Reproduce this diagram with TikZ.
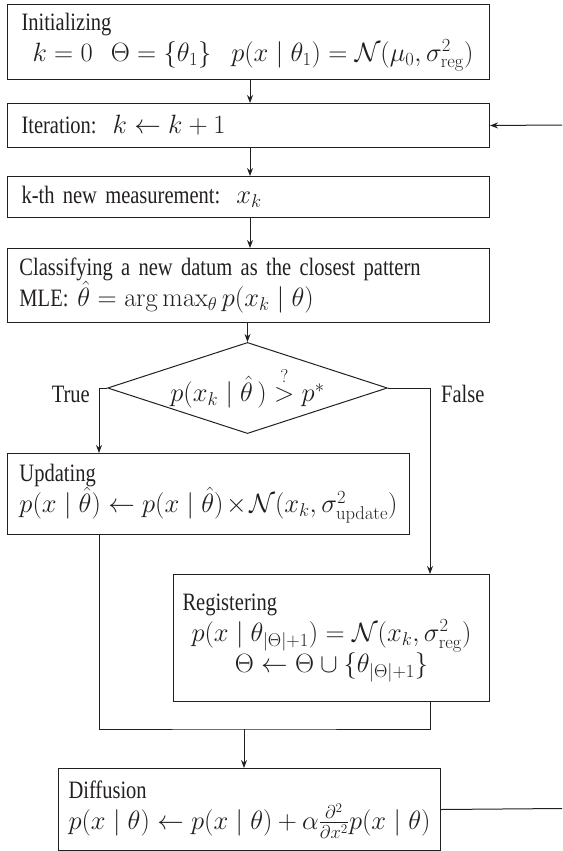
\documentclass[tikz,border=0pt]{standalone}
\usepackage{fix-cm}
\usepackage{amsmath}
\usepackage[no-math]{fontspec}
\setmainfont{Liberation Serif}[FakeStretch=0.82]
\usetikzlibrary{shapes.geometric,arrows.meta,calc}
\definecolor{ink}{HTML}{231F20}
\newcommand\mm[1]{{\fontsize{26.5}{31}\selectfont$#1$}}
\begin{document}
\begin{tikzpicture}[x=1pt,y=-1pt,
  every node/.style={text=ink},
  txt/.style={font=\fontsize{25}{31}\selectfont},
  box/.style={txt,draw=ink,line width=1pt,rectangle,anchor=north west,inner ysep=0pt,align=left},
  arr/.style={draw=ink,line width=1pt,-{Stealth[length=8pt,width=6pt]}},
  ln/.style={draw=ink,line width=1pt}]
\useasboundingbox (0,0) rectangle (562,851);

\node[box,inner xsep=14pt,text width=454pt,minimum width=482pt,minimum height=75pt] (init) at (7,4)
 {Initializing\\ \makebox[\linewidth][l]{\hspace*{11pt}\mm{k=0\hspace{18pt}\Theta=\{\theta_1\}\hspace{20pt}p(x\mid\theta_1)=\mathcal{N}(\mu_0,\sigma^2_{\mathrm{reg}})}}};

\node[box,inner xsep=14pt,text width=454pt,minimum width=482pt,minimum height=44pt] (iter) at (7,103)
 {Iteration:\hspace{16pt}\mm{k\leftarrow k+1}};

\node[box,inner xsep=14pt,text width=454pt,minimum width=482pt,minimum height=41pt] (meas) at (7,176)
 {k-th new measurement:\hspace{16pt}\mm{x_k}};

\node[box,inner xsep=12pt,text width=458pt,minimum width=482pt,minimum height=74pt] (cls) at (7,248)
 {Classifying a new datum as the closest pattern\\ MLE:\hspace{9pt}\mm{\hat\theta=\arg\max_\theta p(x_k\mid\theta)}};

\node[txt,draw=ink,line width=1pt,diamond,aspect=3.07,inner sep=0pt,minimum width=255pt,minimum height=83pt] (dec) at (247.5,388)
 {\mm{p(x_k\mid\hat\theta\,)\overset{?}{>}p^*}};

\node[box,inner xsep=12pt,text width=378pt,minimum width=402pt,minimum height=81pt] (upd) at (7,453)
 {Updating\\ \mm{p(x\mid\hat\theta)\leftarrow p(x\mid\hat\theta)\times\mathcal{N}(x_k,\sigma^2_{\mathrm{update}})}};

\node[box,inner xsep=9pt,text width=298pt,minimum width=316pt,minimum height=127pt] (reg) at (173,574)
 {Registering\\ \makebox[\linewidth]{\mm{p(x\mid\theta_{|\Theta|+1})=\mathcal{N}(x_k,\sigma^2_{\mathrm{reg}})}}\\
  \makebox[\linewidth]{\mm{\Theta\leftarrow\Theta\cup\{\theta_{|\Theta|+1}\}}}};

\node[box,inner xsep=10pt,text width=362pt,minimum width=382pt,minimum height=82pt] (dif) at (58,768)
 {Diffusion\\ \mm{p(x\mid\theta)\leftarrow p(x\mid\theta)+\alpha\frac{\partial^2}{\partial x^2}p(x\mid\theta)}};

\node[txt,anchor=base east,inner sep=0pt] (tl) at (90,402) {True};
\node[txt,anchor=base west,inner sep=0pt] (fl) at (441,402) {False};

\coordinate (loopin) at (562,125);
\coordinate (loopout) at (562,808.5);
\coordinate (join) at (244,729);

\draw[arr] (init.south -| 250,0) -- (iter.north -| 250,0);
\draw[arr] (iter.south -| 250,0) -- (meas.north -| 250,0);
\draw[arr] (meas.south -| 250,0) -- (cls.north -| 250,0);
\draw[arr] (cls.south -| dec.north) -- (dec.north);
\draw[arr] (dec.west) -| (upd.north -| 99,0);
\draw[arr] (dec.east) -| (reg.north -| 430,0);
\draw[ln] (upd.south -| 99,0) |- (join) -| (reg.south -| 430,0);
\draw[arr] (join) -- (dif.north -| join);
\draw[ln] (dif.east) -- (loopout);
\draw[arr] (loopin) -- (iter.east);
\end{tikzpicture}
\end{document}
